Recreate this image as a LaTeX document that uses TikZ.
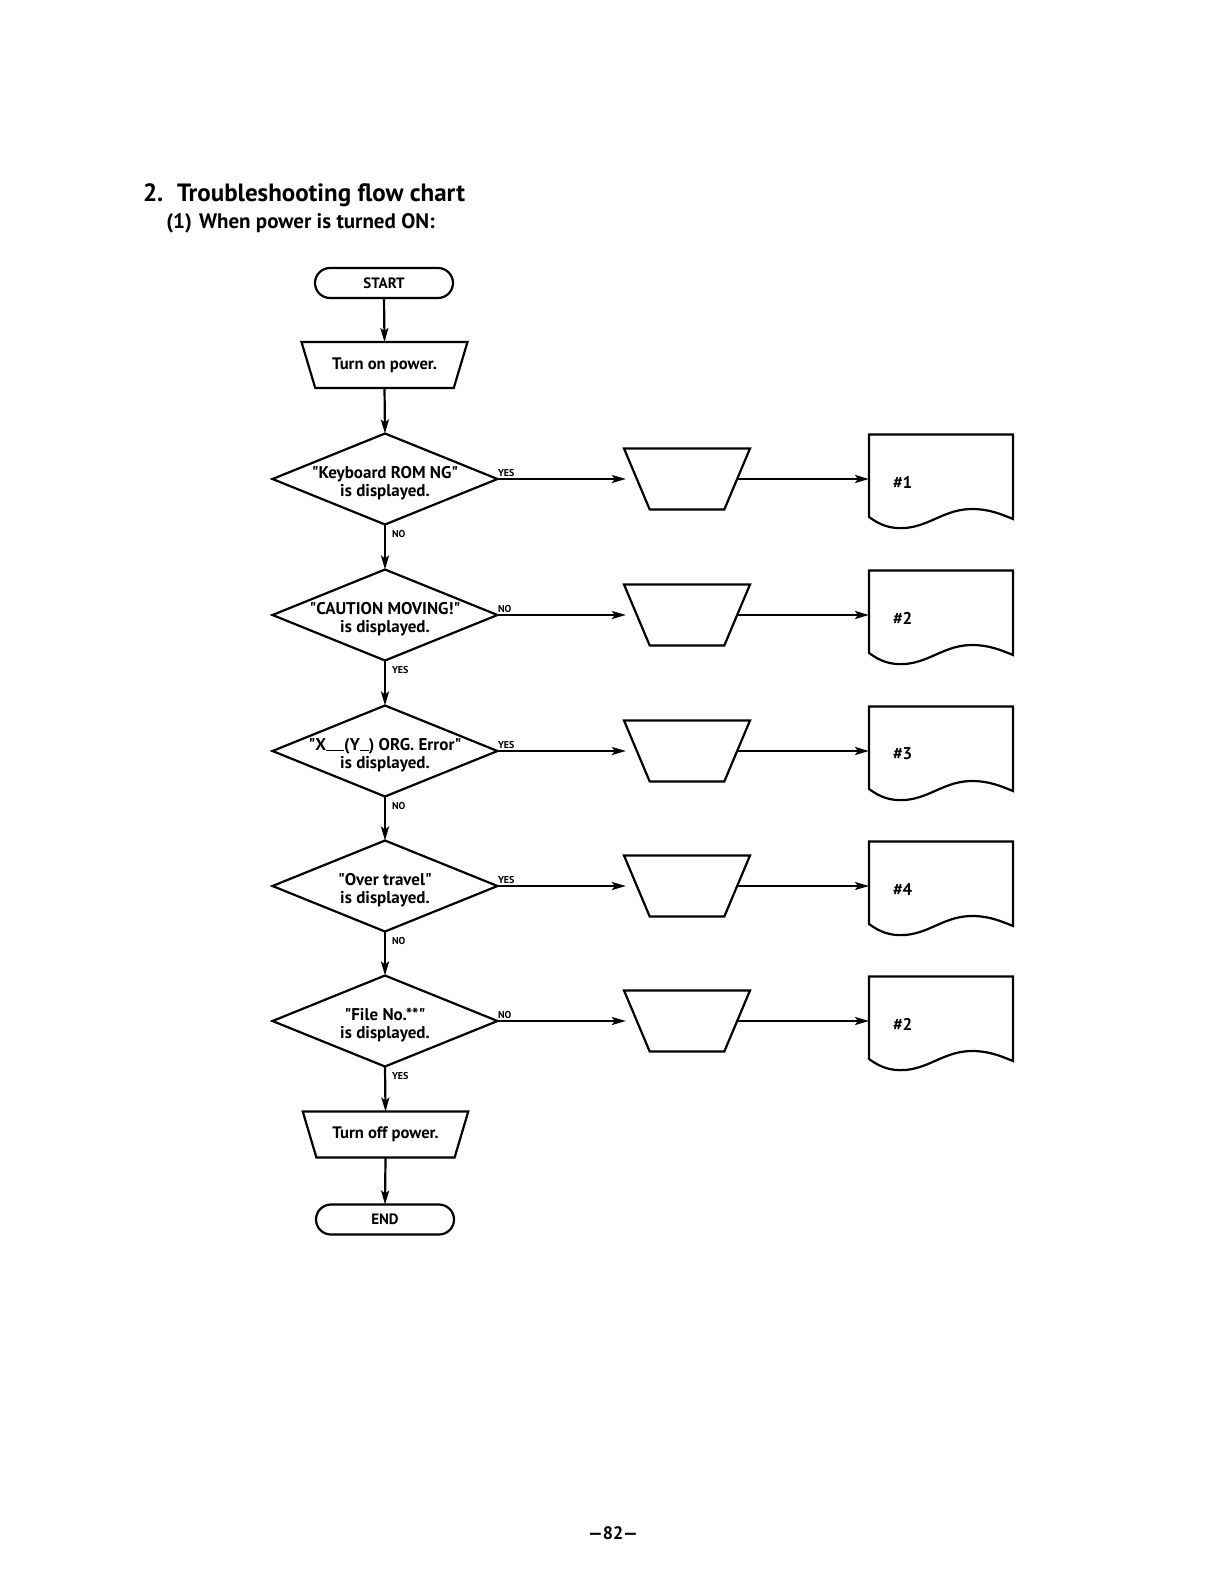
\documentclass[tikz,border=0pt]{standalone}
\usepackage{fontspec}
\setmainfont{PT Sans}
\usetikzlibrary{shapes.geometric,arrows.meta}
\newcommand{\dq}{\textquotedbl}
\begin{document}
\begin{tikzpicture}[x=0.5pt,y=-0.5pt,line width=1.1pt,
  every node/.style={inner sep=0pt,outer sep=0pt},
  arr/.style={-{Stealth[length=7pt,width=4pt,inset=1.5pt]}},
  term/.style={draw,rectangle,rounded corners=7.5pt,minimum width=69pt,minimum height=15pt,
    font=\bfseries\fontsize{7.5}{9}\selectfont},
  manual/.style={draw,trapezium,shape border rotate=180,trapezium stretches=true,
    trapezium left angle=64,trapezium right angle=64,minimum width=83pt,minimum height=23pt,
    inner sep=2pt,font=\bfseries\fontsize{8.3}{10}\selectfont},
  smallman/.style={draw,trapezium,shape border rotate=180,trapezium stretches=true,
    trapezium left angle=71,trapezium right angle=71,minimum width=63pt,minimum height=30.5pt,inner sep=2pt},
  dec/.style={draw,diamond,minimum width=112.5pt,minimum height=45.5pt,inner sep=2pt},
  dtext/.style={align=center,font=\bfseries\fontsize{8.5}{9}\selectfont},
  yn/.style={anchor=base west,font=\bfseries\fontsize{5}{6}\selectfont},
  docbox/.style={rectangle,minimum width=72pt,minimum height=41pt},
  doctext/.style={anchor=west,font=\bfseries\fontsize{8.5}{10}\selectfont}]
\useasboundingbox (0,0) rectangle (1224,1584);
\fill[white] (0,0) rectangle (1224,1584);

% titles
\node[anchor=base west,font=\bfseries\fontsize{12.5}{15}\selectfont] (tnum) at (143,201) {2.};
\node[anchor=base west,font=\bfseries\fontsize{12.5}{15}\selectfont] (ttl) at (177,201) {Troubleshooting flow chart};
\node[anchor=base east,font=\bfseries\fontsize{10.5}{12}\selectfont] (snum) at (192,228) {(1)};
\node[anchor=base west,font=\bfseries\fontsize{10.5}{12}\selectfont] (sub) at (199,228) {When power is turned ON:};

% main column
\node[term] (start) at (384,283) {START};
\node[manual] (on) at (384.5,365) {Turn on power.};

\foreach \i/\ry/\ta/\rl/\dl/\nn in {
  1/479/{\dq Keyboard ROM NG\dq}/YES/NO/1,
  2/615/{\dq CAUTION MOVING!\dq}/NO/YES/2,
  3/751/{\dq X\rule[-0.3pt]{9pt}{0.6pt}(Y\rule[-0.3pt]{4.5pt}{0.6pt}) ORG. Error\dq}/YES/NO/3,
  4/886/{\dq Over travel\dq}/YES/NO/4,
  5/1021/{\dq File No.**\dq}/NO/YES/2}{
  \node[dec] (d\i) at (385,\ry) {};
  \node[dtext] (t\i) at (385,\ry+4.5) {\ta\\is displayed.};
  \node[yn] (r\i) at (498,\ry-3) {\rl};
  \node[yn] (b\i) at (392,\ry+58) {\dl};
  \node[smallman] (m\i) at (687,\ry) {};
  \node[docbox] (doc\i) at (941,\ry) {};
  \draw (869,\ry-44.5) -- (869,\ry+38)
     .. controls (880,\ry+46) and (890,\ry+50) .. (905,\ry+49)
     .. controls (930,\ry+47) and (945,\ry+30) .. (972,\ry+30)
     .. controls (990,\ry+30) and (1003,\ry+36) .. (1013,\ry+40)
     -- (1013,\ry-44.5) -- cycle;
  \node[doctext] (n\i) at (893,\ry+3) {\#\nn};
  \draw[arr,shorten >=5.5pt] (d\i.east) -- (m\i.west);
  \draw[arr] (m\i.east) -- (doc\i.west);
}

\node[manual] (off) at (385.5,1134.5) {Turn off power.};
\node[term] (end) at (385,1219.5) {END};

\draw[arr] (start.south) -- (on.north);
\draw[arr] (on.south) -- (d1.north);
\draw[arr] (d1.south) -- (d2.north);
\draw[arr] (d2.south) -- (d3.north);
\draw[arr] (d3.south) -- (d4.north);
\draw[arr] (d4.south) -- (d5.north);
\draw[arr] (d5.south) -- (off.north);
\draw[arr] (off.south) -- (end.north);

\node[font=\bfseries\fontsize{9}{10}\selectfont] (pg) at (613,1533) {---82---};
\end{tikzpicture}
\end{document}
